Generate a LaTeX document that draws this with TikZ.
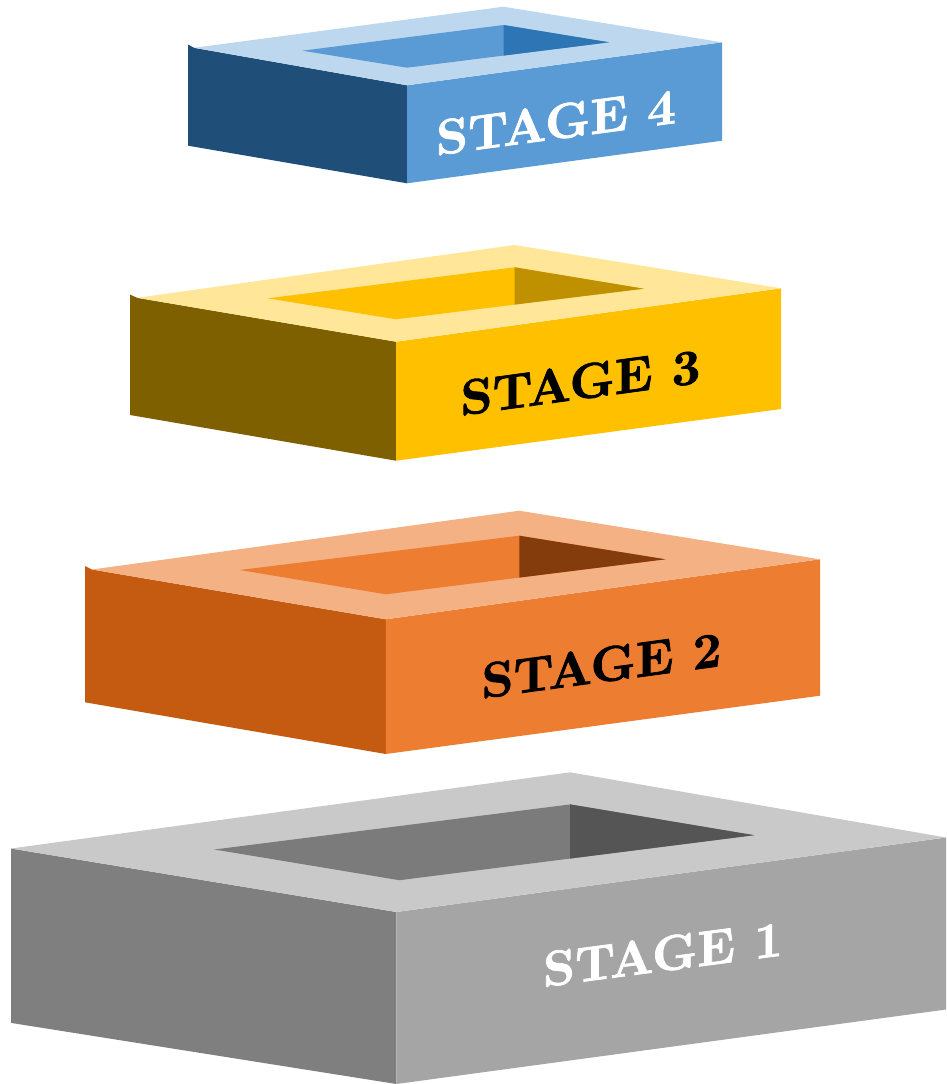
\documentclass[tikz,border=0pt]{standalone}
\usepackage{fontspec}
\newfontfamily\stagefont{lmroman10-bold.otf}[FakeBold=1.4]
\definecolor{sfourtop}{HTML}{BDD7EE}
\definecolor{sfourleft}{HTML}{1F4E79}
\definecolor{sfourfront}{HTML}{5B9BD5}
\definecolor{sfourdark}{HTML}{2E75B6}
\definecolor{sthreetop}{HTML}{FFE699}
\definecolor{sthreeleft}{HTML}{7F6000}
\definecolor{sthreefront}{HTML}{FFC000}
\definecolor{sthreedark}{HTML}{BF9000}
\definecolor{stwotop}{HTML}{F4B183}
\definecolor{stwoleft}{HTML}{C55A11}
\definecolor{stwofront}{HTML}{ED7D31}
\definecolor{stwodark}{HTML}{843C0C}
\definecolor{sonetop}{HTML}{C9C9C9}
\definecolor{soneleft}{HTML}{7F7F7F}
\definecolor{sonefront}{HTML}{A5A5A5}
\definecolor{sonehole}{HTML}{7B7B7B}
\definecolor{sonedark}{HTML}{555555}
\tikzset{
  lbl/.style={font=\stagefont\fontsize{50}{50}\selectfont, inner sep=0pt, transform shape}
}
\begin{document}
\begin{tikzpicture}[x=1pt,y=-1pt]
\useasboundingbox (0,0) rectangle (946,1084);
% ---------- STAGE 4 ----------
\fill[sfourleft] (188,44.5) -- (194,47.8) -- (407,85.3) -- (407,183.3) -- (188,145.7) -- cycle;
\fill[sfourfront] (407,85.3) -- (722,42.3) -- (722,140.7) -- (407,183.3) -- cycle;
\fill[sfourtop] (194,47.8) -- (503.5,6.7) -- (722,42.3) -- (407,85.3) -- cycle;
\fill[sfourfront] (302.4,50.7) -- (503.5,25) -- (609,42.3) -- (407,67.7) -- cycle;
\fill[sfourdark] (503.5,25) -- (609,42.3) -- (503.5,55.6) -- cycle;
\begin{scope}[shift={(556,122)}, yslant=0.135]
  \node[lbl, text=white] (t4) at (0,0) {STAGE 4};
\end{scope}
% ---------- STAGE 3 ----------
\fill[sthreeleft] (130,294.5) -- (137,297.8) -- (396,341.7) -- (396,460.7) -- (130,415) -- cycle;
\fill[sthreefront] (396,341.7) -- (781,288.3) -- (781,409) -- (396,460.7) -- cycle;
\fill[sthreetop] (137,297.8) -- (514.6,245) -- (781,288.3) -- (396,341.7) -- cycle;
\fill[sthreefront] (267.7,298.3) -- (514.6,267.3) -- (643.7,288.7) -- (396,319.3) -- cycle;
\fill[sthreedark] (514.6,267.3) -- (643.7,288.7) -- (514.6,304.6) -- cycle;
\begin{scope}[shift={(580.5,382)}, yslant=0.137]
  \node[lbl, text=black] (t3) at (0,0) {STAGE 3};
\end{scope}
% ---------- STAGE 2 ----------
\fill[stwoleft] (85,566) -- (92,569.5) -- (385.8,619.3) -- (385.8,754) -- (85,702.3) -- cycle;
\fill[stwofront] (385.8,619.3) -- (820,559.3) -- (820,695.7) -- (385.8,754) -- cycle;
\fill[stwotop] (92,569.5) -- (519.3,510.7) -- (820,559.3) -- (385.8,619.3) -- cycle;
\fill[stwofront] (239.6,570) -- (519.3,535.7) -- (665.5,559.3) -- (385.8,594.3) -- cycle;
\fill[stwodark] (519.3,535.7) -- (665.5,559.3) -- (519.3,577.6) -- cycle;
\begin{scope}[shift={(601.5,665)}, yslant=0.136]
  \node[lbl, text=black] (t2) at (0,0) {STAGE 2};
\end{scope}
% ---------- STAGE 1 ----------
\fill[soneleft] (11,848.5) -- (396.4,912) -- (396.4,1084) -- (11,1022.9) -- cycle;
\fill[sonefront] (396.4,912) -- (946,837.5) -- (946,1009.5) -- (396.4,1084) -- cycle;
\fill[sonetop] (11,848.5) -- (570.2,772.3) -- (946,837.5) -- (396.4,912) -- cycle;
\fill[sonehole] (214.3,849.5) -- (570.2,804.4) -- (754,835.2) -- (399.5,880.2) -- cycle;
\fill[sonedark] (570.2,804.4) -- (754,835.2) -- (570.2,858.5) -- cycle;
\begin{scope}[shift={(663,954)}, yslant=0.132]
  \node[lbl, text=white] (t1) at (0,0) {STAGE 1};
\end{scope}
\end{tikzpicture}
\end{document}
